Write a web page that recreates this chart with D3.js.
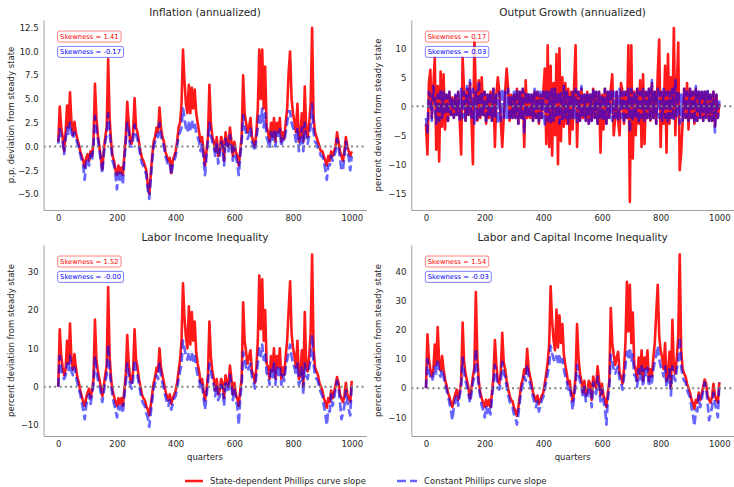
<!DOCTYPE html>
<html><head><meta charset="utf-8">
<script src="https://cdn.jsdelivr.net/npm/d3@7"></script>
<style>body{margin:0;background:#fff}svg{display:block;font-family:"DejaVu Sans",sans-serif}</style>
</head><body><svg id="c" width="734" height="487"></svg>
<script>
const quarters = d3.range(0, 1001, 5);

const inflationState = [
0.5,4.2,2.0,1.0,-0.5,1.5,4.3,2.0,5.7,2.5,
1.2,2.6,1.5,0.8,0.2,-0.5,-1.0,-1.5,-2.2,-1.2,
-0.8,-1.5,-0.5,-1.0,0.5,6.6,3.0,1.2,0.0,-1.2,
-2.4,-0.5,1.0,2.0,9.2,3.0,0.5,-1.0,-1.5,-2.5,
-3.0,-2.0,-2.8,-2.2,-3.0,-1.0,1.0,4.7,2.5,0.5,
0.3,1.5,5.1,2.0,1.5,0.5,-0.5,-1.2,-1.5,-2.0,
-2.5,-4.0,-5.0,-3.0,-1.0,0.5,1.0,2.0,1.5,4.1,
2.0,1.0,0.5,-0.5,-1.0,-1.5,-1.2,-2.8,-1.5,-1.0,
-0.5,0.5,2.0,2.5,4.5,10.2,7.0,4.5,3.5,6.5,
3.5,6.2,4.0,6.0,3.5,2.5,1.5,0.5,1.0,-0.5,
-2.0,-0.5,1.0,6.5,2.5,1.0,0.5,-0.5,1.0,-1.0,
-0.5,1.0,0.5,-1.5,1.5,0.5,0.0,2.0,0.5,-1.0,
0.5,-0.5,-1.0,-2.0,-0.5,1.0,7.5,3.5,2.5,1.5,
2.0,3.0,1.0,0.5,0.0,1.5,4.0,10.2,5.0,10.2,
4.0,8.4,2.0,1.5,0.5,2.5,1.0,3.0,0.5,2.5,
1.5,3.0,0.5,1.5,0.8,2.5,4.0,7.8,10.0,5.0,
3.5,2.5,1.5,4.5,0.5,1.0,3.5,0.5,6.3,1.5,
1.0,2.5,4.5,12.5,3.0,1.5,1.0,0.5,0.0,-0.5,
-0.5,-1.0,-1.5,-2.0,-1.0,-1.5,-0.5,-1.0,-0.5,0.0,
1.5,0.5,-0.5,-1.0,-1.5,-0.5,1.0,0.0,-0.5,-1.0,
-0.5];
const inflationConst = [
0.3,1.8,1.0,0.5,-0.8,0.8,2.0,1.2,2.5,1.5,
0.8,1.5,1.0,0.3,0.0,-0.8,-1.5,-2.0,-3.5,-1.8,
-1.2,-2.0,-0.8,-1.5,0.3,3.2,1.8,0.8,-0.3,-1.5,
-2.8,-0.8,0.5,1.2,3.5,1.5,0.0,-1.5,-2.0,-3.0,
-4.5,-2.5,-3.5,-2.8,-4.0,-1.5,0.5,2.5,1.5,0.0,
0.0,0.8,2.3,1.2,0.8,0.0,-1.0,-1.8,-2.0,-2.5,
-3.0,-4.5,-5.5,-3.5,-1.5,0.0,0.5,1.2,1.0,2.5,
1.2,0.5,0.0,-1.0,-1.5,-2.0,-1.8,-3.0,-2.0,-1.5,
-1.0,0.0,1.2,1.5,2.0,4.0,3.0,2.0,1.5,2.5,
1.8,2.8,2.0,2.5,1.5,1.0,0.5,-0.5,0.2,-1.2,
-3.0,-1.0,0.5,2.5,1.2,0.5,0.0,-1.0,0.5,-1.8,
-1.0,0.5,0.0,-2.0,0.8,0.0,-0.5,1.2,0.0,-1.5,
0.0,-1.0,-1.8,-3.0,-1.0,0.5,3.3,2.0,1.5,0.8,
1.2,2.0,0.5,0.0,-0.5,0.8,2.0,3.5,2.5,4.0,
2.0,3.5,1.0,0.5,-0.2,1.5,0.5,1.8,0.0,1.5,
0.8,1.8,0.0,0.8,0.5,1.5,2.5,3.7,3.7,2.5,
2.0,1.5,0.5,2.0,-0.5,0.5,2.0,-0.5,2.5,0.5,
0.3,1.2,2.0,4.5,1.5,0.5,0.3,-0.2,-0.5,-1.0,
-1.0,-1.5,-2.5,-3.5,-2.0,-2.0,-1.0,-1.5,-1.0,-0.5,
0.8,0.0,-1.2,-2.5,-2.5,-1.0,0.5,-0.5,-1.2,-2.5,
-1.0];

const outputState = [
-3.0,-8.3,4.0,6.3,-2.0,3.0,8.5,-7.5,3.5,-9.5,
6.0,-3.5,5.5,-4.0,2.0,-2.5,2.5,-1.5,1.5,-2.0,
1.8,-1.5,2.5,-2.5,-8.3,8.5,2.5,-2.5,3.0,-1.5,
4.0,-2.0,-10.0,11.5,2.5,-2.5,4.5,-2.0,5.0,-1.5,
2.5,-3.0,2.0,-2.0,2.5,-2.5,3.0,-7.0,2.0,5.0,
2.5,-2.5,-7.0,-2.0,2.5,6.5,3.0,-2.5,2.0,-2.0,
2.0,-2.0,3.0,-3.0,2.5,-2.0,3.0,-7.0,4.5,-2.0,
2.0,-2.0,2.0,-2.5,2.5,-2.0,2.5,-3.0,2.0,-2.0,
2.5,6.5,-6.5,10.5,-7.0,7.0,-8.5,4.0,-5.0,9.0,
-10.0,10.0,-6.0,5.0,-3.5,4.0,-3.0,3.0,-6.5,2.5,
-4.0,3.5,10.5,-7.0,2.5,-2.5,3.0,-2.0,2.0,-2.5,
2.5,-3.0,2.0,-2.5,3.0,-2.0,2.5,-3.0,2.5,-8.0,
2.0,-4.0,3.0,-3.0,2.5,-2.0,3.0,5.5,-5.0,-2.0,
2.5,-2.5,-5.0,4.0,2.5,-3.0,2.5,-2.0,10.5,-16.5,
10.5,-9.0,2.5,-5.0,3.0,-3.0,4.5,-7.0,5.5,-6.5,
2.5,-2.0,3.0,-2.5,4.0,-2.0,2.5,-3.0,5.5,11.5,
-7.0,2.5,-3.0,7.0,-8.0,9.0,-3.0,5.0,-2.0,13.5,
-5.0,3.0,11.0,-11.0,-8.0,-2.5,3.0,-2.0,4.0,-4.0,
3.0,-2.0,2.5,-3.0,3.0,-2.5,2.5,-2.0,2.5,-2.5,
2.5,-2.0,2.5,-2.5,2.0,-2.5,2.5,-3.5,2.0,-2.0,
0.5];
const outputConst = [
-2.0,-4.5,2.5,1.5,-2.5,3.5,1.0,-3.0,2.0,-2.5,
3.0,-2.0,2.5,-1.5,2.0,-2.5,2.5,-1.5,1.5,-2.0,
2.0,-1.5,2.5,-2.5,3.0,-2.0,2.5,-2.5,3.5,-1.5,
4.5,-2.0,3.0,-3.0,2.5,-2.5,4.5,-2.0,2.5,-1.5,
2.5,-3.0,2.0,-2.0,2.5,-2.5,3.0,-2.0,2.0,-3.0,
2.5,-2.5,3.0,-2.0,2.5,-2.0,3.0,-2.5,2.0,-2.0,
2.5,-2.0,3.0,-3.0,2.5,-2.0,3.0,-4.5,2.5,-2.0,
2.5,-2.0,2.0,-2.5,3.0,-2.0,2.5,-3.0,2.5,-2.0,
2.5,-3.5,3.0,-2.5,2.5,-3.0,3.0,-2.5,3.0,-2.0,
2.5,-3.0,2.5,-2.5,3.5,-2.0,2.5,-3.0,2.0,-2.5,
2.5,-2.0,3.0,-3.0,2.5,-2.5,3.5,-2.0,2.0,-2.5,
2.5,-3.0,2.0,-2.5,3.0,-2.0,2.5,-3.0,2.5,-2.0,
2.0,-2.5,3.0,-3.0,2.5,-2.0,3.0,-2.5,2.5,-2.0,
2.5,-2.5,3.0,-2.0,2.5,-3.0,2.5,-2.0,3.0,-4.5,
3.0,-2.5,2.5,-2.0,3.0,-3.0,2.5,-2.0,3.0,-2.5,
2.5,-2.0,3.0,-2.5,4.5,-2.0,2.5,-3.0,3.0,-2.0,
2.5,-2.5,3.0,-2.0,2.5,-3.0,2.5,-2.0,3.0,-2.5,
4.5,-2.0,2.5,-3.0,2.0,-2.5,3.0,-2.0,2.5,-2.5,
3.0,-2.0,2.5,-3.0,3.5,-2.5,2.5,-2.0,3.0,-2.5,
2.5,-2.0,3.0,-2.5,2.0,-2.5,2.5,-4.5,2.0,-2.0,
1.0];

const laborState = [
0.0,15.0,8.0,5.0,3.0,4.5,12.0,6.0,16.5,7.0,
4.5,8.5,5.0,2.5,1.0,-1.0,-2.5,-4.0,-5.0,-3.0,
-1.5,-0.5,-3.0,-1.0,2.0,17.5,7.0,4.0,2.0,0.0,
-2.5,0.0,3.0,5.5,26.0,8.0,2.0,-1.0,-2.5,-4.0,
-5.0,-3.0,-4.5,-3.0,-5.0,-1.0,3.0,13.5,6.0,2.0,
1.0,4.0,15.0,7.0,5.0,2.0,0.0,-2.0,-3.0,-3.5,
-5.0,-6.0,-7.5,-5.0,-2.0,1.0,2.5,5.0,4.0,10.0,
5.0,3.0,1.0,-1.0,-2.5,-3.5,-2.0,-4.5,-3.0,-2.0,
-1.0,1.0,4.0,7.0,12.0,27.0,18.0,13.0,10.0,21.0,
11.0,19.5,12.0,17.0,9.0,6.0,4.0,1.0,2.0,-1.0,
-3.5,-1.0,3.0,17.0,8.0,4.0,2.0,-1.0,2.0,-2.0,
-1.0,2.0,1.0,-3.0,3.0,1.0,0.0,5.5,2.0,-2.0,
1.0,-2.0,-3.0,-5.0,-1.0,2.0,22.0,12.0,9.0,6.0,
8.0,9.5,4.0,3.0,1.0,5.0,12.0,29.0,15.0,28.0,
12.0,20.0,6.0,5.0,2.0,8.0,4.0,10.0,2.0,8.0,
5.0,10.0,2.0,5.0,3.0,8.0,12.0,20.0,27.5,14.0,
10.0,8.0,5.0,12.0,2.0,3.0,9.5,0.0,19.5,5.0,
4.0,8.0,14.0,34.5,10.0,5.0,4.0,3.0,1.0,0.0,
-1.0,-3.0,-4.0,-5.5,-3.0,-4.0,-1.0,-3.0,-1.5,0.5,
2.5,1.0,-2.0,-3.0,-4.0,-2.5,1.0,-2.0,-3.0,-4.0,
1.5];
const laborConst = [
0.0,8.0,4.5,3.0,2.0,3.0,6.0,4.0,8.0,4.0,
3.0,5.0,3.0,1.0,-0.5,-2.0,-4.0,-6.0,-8.5,-5.0,
-3.0,-2.0,-4.5,-2.0,0.5,8.0,4.0,2.0,0.5,-1.5,
-4.0,-1.5,1.5,3.0,11.0,4.5,0.5,-2.5,-4.5,-6.0,
-8.0,-5.0,-6.5,-5.0,-7.0,-2.5,1.0,6.0,3.0,0.5,
-0.5,2.0,7.0,4.0,3.0,0.5,-1.5,-3.5,-4.5,-5.0,
-7.0,-8.0,-10.5,-7.0,-3.5,-0.5,1.0,3.0,2.0,6.0,
3.0,1.0,-0.5,-2.5,-4.0,-5.0,-3.5,-6.0,-4.5,-3.0,
-2.5,-0.5,2.0,4.0,6.0,12.0,10.0,8.0,7.0,9.0,
7.0,9.0,6.5,8.0,5.0,3.0,2.0,-0.5,0.5,-2.5,
-6.0,-2.5,1.0,6.0,4.0,2.0,0.5,-2.5,0.5,-3.5,
-2.5,0.5,-0.5,-5.0,1.5,-0.5,-1.5,3.0,0.5,-3.5,
-0.5,-3.5,-5.0,-10.0,-3.0,0.5,9.0,7.0,5.0,4.0,
5.0,6.0,2.5,1.5,-0.5,3.0,6.0,10.0,8.0,11.0,
7.0,9.0,3.5,3.0,0.5,5.0,2.5,6.0,0.5,5.0,
3.0,5.5,0.5,3.0,1.5,5.0,7.0,9.0,11.0,8.0,
6.0,5.0,3.0,6.0,0.5,1.5,5.0,-2.0,6.0,3.0,
2.0,5.0,7.0,13.5,6.0,3.0,2.0,1.5,-0.5,-1.5,
-2.5,-5.0,-7.0,-10.0,-6.0,-6.5,-2.0,-5.0,-3.0,-0.5,
1.5,0.0,-4.0,-8.5,-7.0,-5.0,-1.0,-4.0,-6.0,-7.5,
1.0];

const laborCapitalState = [
0.0,18.5,10.0,6.5,4.0,6.0,15.0,8.0,21.0,9.0,
6.0,11.0,6.5,3.0,1.0,-1.5,-3.0,-5.0,-6.5,-4.0,
-2.0,-0.5,-4.0,-1.5,2.5,22.5,9.0,5.0,2.5,0.0,
-3.5,0.0,4.0,7.0,33.0,10.5,2.5,-1.5,-3.5,-5.0,
-6.5,-4.0,-6.0,-4.0,-6.5,-1.5,4.0,16.5,8.0,2.5,
1.5,5.0,19.0,9.0,6.5,2.5,0.0,-2.5,-4.0,-4.5,
-6.5,-8.0,-9.5,-6.5,-2.5,1.5,3.0,6.5,5.0,13.5,
6.5,4.0,1.5,-1.5,-3.0,-4.5,-2.5,-5.5,-4.0,-2.5,
-1.5,1.5,5.0,9.0,15.0,35.0,23.0,16.5,13.0,27.0,
14.0,25.0,15.5,22.0,11.5,8.0,5.0,1.5,2.5,-1.5,
-4.5,-1.5,4.0,22.0,10.5,5.0,2.5,-1.5,2.5,-2.5,
-1.5,2.5,1.5,-4.0,4.0,1.5,0.0,7.5,2.5,-2.5,
1.5,-2.5,-4.0,-6.5,-1.5,2.5,27.5,15.5,11.5,8.0,
10.5,12.5,5.0,4.0,1.5,6.5,15.5,36.5,19.5,35.5,
15.5,26.0,8.0,6.5,2.5,10.5,5.0,13.0,2.5,10.5,
6.5,13.0,2.5,6.5,4.0,10.5,15.5,26.0,35.5,18.0,
13.0,10.5,6.5,15.5,2.5,4.0,12.5,0.0,23.5,6.5,
5.0,10.5,18.0,46.0,13.0,6.5,5.0,4.0,1.5,0.0,
-1.5,-4.0,-5.0,-7.0,-4.0,-5.0,-1.5,-4.0,-2.0,0.5,
3.0,1.5,-2.5,-4.0,-5.0,-3.0,1.5,-2.5,-4.0,-5.0,
2.0];
const laborCapitalConst = [
0.0,10.0,5.5,4.0,2.5,4.0,7.5,5.0,10.0,5.0,
4.0,6.5,4.0,1.5,-0.5,-2.5,-5.0,-7.5,-11.0,-6.5,
-4.0,-2.5,-6.0,-2.5,0.5,10.5,5.0,2.5,0.5,-2.0,
-5.0,-2.0,2.0,4.0,13.5,6.0,0.5,-3.0,-6.0,-7.5,
-10.0,-6.5,-8.5,-6.5,-9.0,-3.0,1.5,8.0,4.0,0.5,
-0.5,2.5,9.0,5.0,4.0,0.5,-2.0,-4.5,-6.0,-6.5,
-9.0,-10.0,-12.5,-9.0,-4.5,-0.5,1.5,4.0,2.5,8.0,
4.0,1.5,-0.5,-3.0,-5.0,-6.5,-4.5,-8.0,-6.0,-4.0,
-3.0,-0.5,2.5,5.0,8.0,14.5,12.0,10.0,9.0,11.0,
9.0,11.0,8.0,10.0,6.5,4.0,2.5,-0.5,0.5,-3.0,
-7.5,-3.0,1.5,8.0,5.0,2.5,0.5,-3.0,0.5,-4.5,
-3.0,0.5,-0.5,-6.5,2.0,-0.5,-2.0,4.0,0.5,-4.5,
-0.5,-4.5,-6.5,-12.5,-4.0,0.5,11.5,9.0,6.5,5.0,
6.5,7.5,3.0,2.0,-0.5,4.0,7.5,12.5,10.0,14.0,
9.0,11.5,4.5,4.0,0.5,6.5,3.0,7.5,0.5,6.5,
4.0,7.0,0.5,4.0,2.0,6.5,9.0,11.5,14.5,10.0,
7.5,6.5,4.0,7.5,0.5,2.0,6.5,-2.5,7.5,4.0,
2.5,6.5,9.0,17.5,7.5,4.0,2.5,2.0,-0.5,-2.0,
-3.0,-6.5,-9.0,-13.0,-7.5,-8.0,-2.5,-6.5,-4.0,-0.5,
2.0,0.0,-5.0,-11.0,-9.0,-6.5,-1.5,-5.0,-7.5,-10.0,
2.0];

const titles = ["Inflation (annualized)", "Output Growth (annualized)", "Labor Income Inequality", "Labor and Capital Income Inequality"];
const yLabels = ["p.p. deviation from steady state", "percent deviation from steady state", "percent deviation from steady state", "percent deviation from steady state"];
const skewState = ["1.41", "0.17", "1.52", "1.54"];
const skewConst = ["-0.17", "0.03", "-0.00", "-0.03"];
const xTicks = [0, 200, 400, 600, 800, 1000];
const yTicks = [[-5, -2.5, 0, 2.5, 5, 7.5, 10, 12.5], [-15, -10, -5, 0, 5, 10], [-10, 0, 10, 20, 30], [-10, 0, 10, 20, 30, 40]];
const yLims = [[-6.68, 13.31], [-17.88, 14.88], [-12.87, 36.97], [-16.42, 49.17]];
const xLim = [-50, 1050];
const xLabel = "quarters";
const legendLabels = ["State-dependent Phillips curve slope", "Constant Phillips curve slope"];

const stateSeries = [inflationState, outputState, laborState, laborCapitalState];
const constSeries = [inflationConst, outputConst, laborConst, laborCapitalConst];

// ---------- layout ----------
const boxes = [
  {l: 43.6, r: 366.4, t: 20, b: 210},
  {l: 411.3, r: 734, t: 20, b: 210},
  {l: 43.6, r: 366.4, t: 245, b: 436},
  {l: 411.3, r: 734, t: 245, b: 436}
];
const RED = "rgb(255,0,0)", BLUE = "rgb(0,0,255)";
const TXT = "#262626";
const fmtMinus = s => s.replace("-", "\u2212");

const svg = d3.select("#c");

boxes.forEach((bx, i) => {
  const x = d3.scaleLinear().domain(xLim).range([bx.l, bx.r]);
  const y = d3.scaleLinear().domain(yLims[i]).range([bx.b, bx.t]);
  const g = svg.append("g");

  const clip = "clip" + i;
  g.append("clipPath").attr("id", clip).append("rect")
    .attr("x", bx.l).attr("y", bx.t).attr("width", bx.r - bx.l).attr("height", bx.b - bx.t);

  const line = d3.line().x((d, j) => x(quarters[j])).y(d => y(d));
  const plot = g.append("g").attr("clip-path", `url(#${clip})`);
  plot.append("path").datum(stateSeries[i]).attr("d", line)
    .attr("fill", "none").attr("stroke", RED).attr("stroke-opacity", 0.9)
    .attr("stroke-width", 2.6).attr("stroke-linejoin", "round");
  plot.append("path").datum(constSeries[i]).attr("d", line)
    .attr("fill", "none").attr("stroke", BLUE).attr("stroke-opacity", 0.6)
    .attr("stroke-width", 2.7).attr("stroke-dasharray", "9,4").attr("stroke-linejoin", "round");
  plot.append("line").attr("x1", bx.l).attr("x2", bx.r).attr("y1", y(0)).attr("y2", y(0))
    .attr("stroke", "#808080").attr("stroke-width", 2).attr("stroke-dasharray", "2,3.3");

  // axes
  const xa = g.append("g").attr("transform", `translate(0,${bx.b})`)
    .call(d3.axisBottom(x).tickValues(xTicks).tickSize(0).tickPadding(5).tickFormat(d3.format("d")));
  const ya = g.append("g").attr("transform", `translate(${bx.l},0)`)
    .call(d3.axisLeft(y).tickValues(yTicks[i]).tickSize(0).tickPadding(5)
      .tickFormat(d => fmtMinus(i === 0 ? d3.format(".1f")(d) : d3.format("d")(d))));
  [xa, ya].forEach(a => {
    a.select(".domain").attr("stroke", "#a0a0a0").attr("stroke-width", 1);
    a.selectAll("text").attr("fill", TXT).style("font-size", "8.5px").style("font-family", "DejaVu Sans");
  });

  g.append("text").attr("x", (bx.l + bx.r) / 2).attr("y", bx.t - 4).attr("text-anchor", "middle")
    .attr("fill", TXT).style("font-size", "10.5px").text(titles[i]);
  g.append("text").attr("transform", `translate(${bx.l - 30},${(bx.t + bx.b) / 2}) rotate(-90)`)
    .attr("text-anchor", "middle").attr("fill", TXT).style("font-size", "8.5px").text(yLabels[i]);
  if (i >= 2) {
    g.append("text").attr("x", (bx.l + bx.r) / 2).attr("y", bx.b + 24).attr("text-anchor", "middle")
      .attr("fill", TXT).style("font-size", "8.5px").text(xLabel);
  }

  // skewness boxes
  [[skewState[i], RED, 0], [skewConst[i], BLUE, 1]].forEach(([v, c, k]) => {
    const bg = g.append("g");
    const tx = bg.append("text").attr("x", bx.l + 16.5).attr("y", bx.t + 18.5 + k * 15.4)
      .attr("fill", c).style("font-size", "6.8px").text("Skewness = " + v);
    const bb = tx.node().getBBox();
    bg.insert("rect", "text").attr("x", bb.x - 2.5).attr("y", bb.y - 1.5)
      .attr("width", bb.width + 5).attr("height", bb.height + 3).attr("rx", 2)
      .attr("fill", "white").attr("fill-opacity", 0.8).attr("stroke", c).attr("stroke-opacity", 0.5).attr("stroke-width", 1);
  });
});

// legend
const leg = svg.append("g");
const legItems = [
  {x: 185, len: 18, c: RED, op: 0.9, dash: null, label: legendLabels[0]},
  {x: 397, len: 20, c: BLUE, op: 0.6, dash: "9,4", label: legendLabels[1]}
];
legItems.forEach(it => {
  leg.append("line").attr("x1", it.x).attr("x2", it.x + it.len).attr("y1", 481).attr("y2", 481)
    .attr("stroke", it.c).attr("stroke-opacity", it.op).attr("stroke-width", 2.5)
    .attr("stroke-dasharray", it.dash);
  leg.append("text").attr("x", it.x + it.len + 7).attr("y", 484).attr("fill", TXT)
    .style("font-size", "8.5px").text(it.label);
});
</script></body></html>
